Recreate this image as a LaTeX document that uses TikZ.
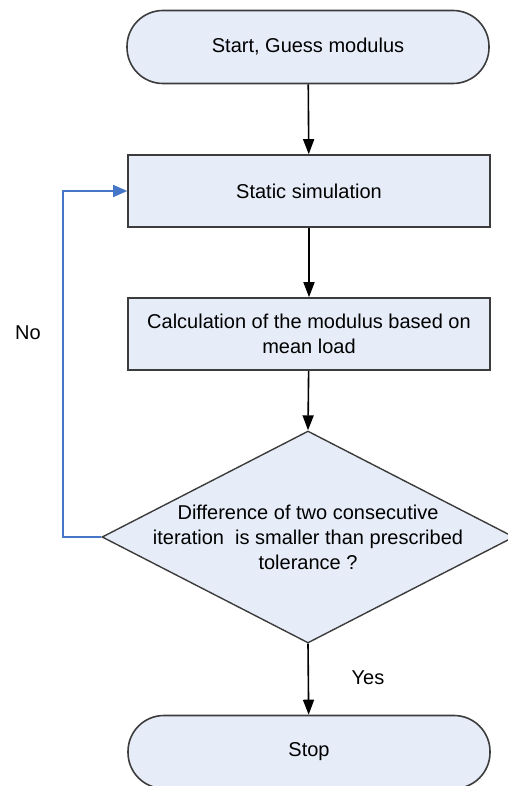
\documentclass[tikz,border=0pt]{standalone}
\usepackage{fontspec}
\setmainfont{Liberation Sans}
\usetikzlibrary{shapes.geometric,arrows.meta,positioning}

\definecolor{boxfill}{RGB}{230,237,248}
\definecolor{boxedge}{RGB}{60,60,60}
\definecolor{loopblue}{RGB}{70,118,200}

\tikzset{
  terminal/.style={draw=boxedge, fill=boxfill, line width=1.6pt, rounded corners=36pt,
    minimum width=362pt, minimum height=73pt, font=\fontsize{20}{25}\selectfont},
  process/.style={draw=boxedge, fill=boxfill, line width=1.6pt,
    minimum width=362pt, minimum height=72pt, align=center, font=\fontsize{20}{25}\selectfont},
  decision/.style={draw=boxedge, fill=boxfill, line width=1.4pt, diamond,
    minimum width=412pt, minimum height=212pt, inner sep=0pt},
  flow/.style={line width=1.6pt, -{Triangle[length=15pt,width=11pt]}},
  back/.style={draw=loopblue, line width=1.4pt, -{Triangle[length=14pt,width=12pt]}},
  lbl/.style={font=\fontsize{20}{22}\selectfont}
}

\begin{document}
\begin{tikzpicture}[x=1pt,y=-1pt]
    \useasboundingbox (0,0) rectangle (507,786);
    \node[terminal] (start) at (308,47) {Start, Guess modulus};
    \node[process] (sim) at (309,191) {Static simulation};
    \node[process] (calc) at (309,334) {Calculation of the modulus based on\\mean load};
    \node[decision] (check) at (308,537) {};
    \node[align=center, font=\fontsize{20}{25}\selectfont] (checktext) at (check.center)
      {Difference of two consecutive\\iteration\ \ is smaller than prescribed\\tolerance ?};
    \node[terminal] (stop) at (309,752) {Stop};
    % connectors
    \draw[flow] (start) -- (sim);
    \draw[flow] (sim) -- (calc);
    \draw[flow] (calc) -- (check.north);
    \draw[flow] (check.south) -- (stop);
    \coordinate (bend) at (63,537);
    \draw[back] (check.west) -- (bend) |- (sim.west);
    \node[lbl] (no) at (28,333) {No};
    \node[lbl] (yes) at (368,678) {Yes};
  \end{tikzpicture}
\end{document}
